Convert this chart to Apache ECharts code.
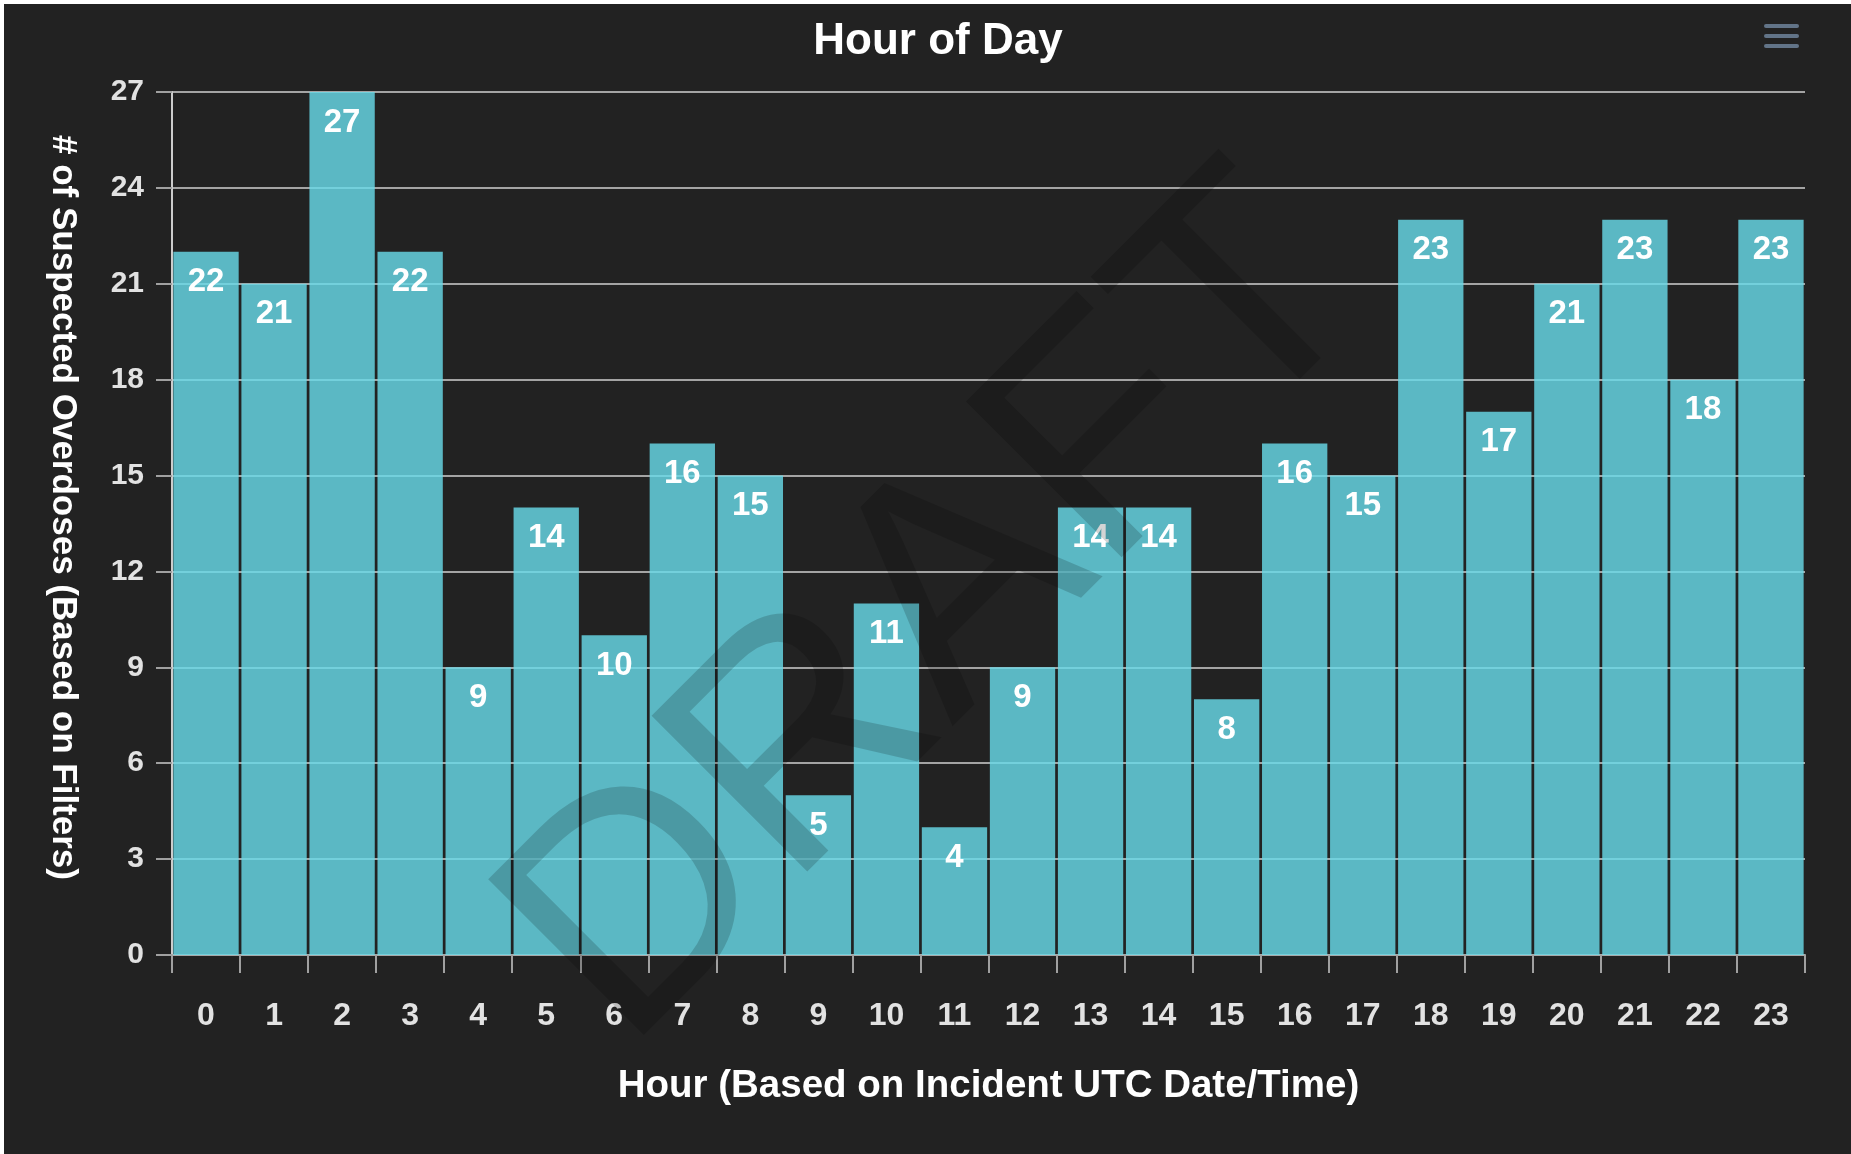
<!DOCTYPE html>
<html>
<head>
<meta charset="utf-8">
<script src="https://cdn.jsdelivr.net/npm/echarts@6/dist/echarts.min.js"></script>
<style>
html,body{margin:0;padding:0;background:#ffffff;width:1851px;height:1154px;overflow:hidden;}
#chart{position:absolute;left:4px;top:4px;width:1847px;height:1150px;background:#222222;}
</style>
</head>
<body>
<div id="chart"></div>
<script>
const titleText = 'Hour of Day';
const xAxisTitle = 'Hour (Based on Incident UTC Date/Time)';
const yAxisTitle = '# of Suspected Overdoses (Based on Filters)';
const hours = ['0','1','2','3','4','5','6','7','8','9','10','11','12','13','14','15','16','17','18','19','20','21','22','23'];
const counts = [22,21,27,22,9,14,10,16,15,5,11,4,9,14,14,8,16,15,23,17,21,23,18,23];
const yMin = 0, yMax = 27, yStep = 3;
const watermark = 'DRAFT';

const chart = echarts.init(document.getElementById('chart'), null, {renderer:'canvas'});
const option = {
  backgroundColor: '#222222',
  animation: false,
  title: {
    text: titleText,
    left: 929,
    top: 11,
    textAlign: 'center',
    textStyle: {color:'#ffffff', fontSize: 44, fontWeight:'bold', fontFamily:'"Liberation Sans", Arial, sans-serif'}
  },
  grid: {left: 168, right: 46, top: 88, bottom: 199, containLabel: false},
  xAxis: {
    type: 'category',
    data: hours,
    name: xAxisTitle,
    nameLocation: 'middle',
    nameGap: 112,
    nameTextStyle: {color:'#ffffff', fontSize: 38.5, fontWeight:'bold', fontFamily:'"Liberation Sans", Arial, sans-serif'},
    axisLine: {show:true, lineStyle:{color:'#a8a8a8', width:2}},
    axisTick: {show:true, alignWithLabel:false, length:18, lineStyle:{color:'#a0a0a0', width:2}},
    axisLabel: {color:'#e2e2e2', fontSize: 32, margin: 45, fontWeight:'bold', fontFamily:'"Liberation Sans", Arial, sans-serif', interval:0},
    splitLine: {show:false}
  },
  yAxis: {
    type: 'value',
    min: yMin, max: yMax, interval: yStep,
    name: yAxisTitle,
    nameLocation: 'middle',
    nameRotate: -90,
    nameGap: 92,
    nameTextStyle: {color:'#ffffff', fontSize: 35, fontWeight:'bold', fontFamily:'"Liberation Sans", Arial, sans-serif', padding:[0,32,0,0]},
    axisLine: {show:true, lineStyle:{color:'#cccccc', width:2}},
    axisTick: {show:true, length:16, lineStyle:{color:'#a0a0a0', width:2}},
    axisLabel: {color:'#e2e2e2', fontSize: 30, margin: 28, fontWeight:'bold', fontFamily:'"Liberation Sans", Arial, sans-serif', padding:[0,0,8,0]},
    splitLine: {show:true, lineStyle:{color:'#a4a4a4', width:2}}
  },
  series: [{
    type: 'bar',
    data: counts,
    barCategoryGap: '4%',
    itemStyle: {color: 'rgba(104,217,232,0.82)'},
    label: {
      show: true, position: 'insideTop', distance: 14,
      color: '#ffffff', fontSize: 33, fontWeight: 'bold',
      fontFamily: '"Liberation Sans", Arial, sans-serif'
    }
  }],
  graphic: [
    {
      type: 'text', x: 936, y: 610, rotation: Math.PI/4, z: 100, silent: true,
      style: {text: watermark, font: '320px "Liberation Sans", Arial, sans-serif', fill: 'rgba(0,0,0,0.17)', textAlign:'center', textVerticalAlign:'middle'}
    },
    {type:'rect', left: 1760, top: 20, z: 100, shape:{width:35, height:4, r:2}, style:{fill:'#627488'}},
    {type:'rect', left: 1760, top: 30, z: 100, shape:{width:35, height:4, r:2}, style:{fill:'#627488'}},
    {type:'rect', left: 1760, top: 40, z: 100, shape:{width:35, height:4, r:2}, style:{fill:'#627488'}}
  ]
};
chart.setOption(option);
</script>
</body>
</html>
